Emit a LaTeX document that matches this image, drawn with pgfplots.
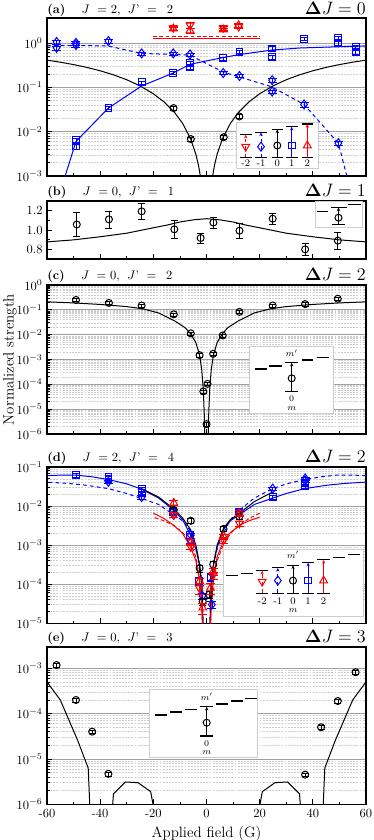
\documentclass[border=0pt]{standalone}
\usepackage{pgfplots}
\pgfplotsset{compat=1.18}
\usetikzlibrary{arrows.meta}
\definecolor{pblue}{RGB}{0,0,255}
\definecolor{pred}{RGB}{255,0,0}
\definecolor{gmaj}{RGB}{160,160,160}
\definecolor{gmin}{RGB}{205,205,205}
\definecolor{gbox}{RGB}{205,205,205}

\newcommand{\ttl}[3]{\textbf{(#1)}\hspace{13pt}$J$\hspace{6pt}$=$\hspace{3pt}$#2$,\hspace{6pt}$J$'\hspace{6pt}$=$\hspace{8pt}$#3$}

\pgfplotsset{
  panel/.style={
    scale only axis, width=255.2pt, anchor=north west,
    xmin=-60, xmax=60,
    xtick={-60,-40,-20,0,20,40,60}, minor x tick num=1,
    xticklabels={},
    tick align=inside, tick pos=left,
    axis line style={line width=1pt},
    major tick length=4pt, minor tick length=2.2pt,
    every tick/.append style={black, line width=0.6pt},
    clip mode=individual,
    every axis plot/.append style={line width=0.8pt},
  },
  loggrid/.style={
    ymajorgrids, yminorgrids,
    major grid style={draw=gmaj, line width=0.6pt},
    minor grid style={draw=gmin, dash pattern=on 1.5pt off 1pt, line width=0.4pt},
  },
  ebar/.style={error bars/y dir=both, error bars/y explicit relative, error bars/error bar style={line width=0.5pt}},
  m0/.style={black, only marks, mark=o, mark size=2.8pt},
  mp1/.style={pblue, only marks, mark=square, mark size=2.7pt},
  mm1/.style={pblue, only marks, mark=diamond, mark size=3.6pt},
  mp2/.style={pred, only marks, mark=triangle, mark size=3.6pt},
  mm2/.style={pred, only marks, mark=triangle, mark size=3.6pt, mark options={rotate=180}},
  inset/.style={scale only axis, anchor=north west, xmin=0, ymin=0, ticks=none,
    axis line style={draw=gbox, line width=0.8pt},
    axis background/.style={fill=white}, clip=false,
    every axis plot/.append style={line width=0.8pt}},
  lev/.style={black, line width=0.9pt},
  arr/.style={-{Stealth[length=3pt,width=2.6pt]}},
}

\begin{document}
\begin{tikzpicture}
\path[use as bounding box] (0,0) rectangle (299.2pt,-672pt);

% ---------------- (a) ----------------
\begin{axis}[panel, ymode=log, loggrid, name=pa, at={(37.6pt,-14.4pt)}, height=126.4pt,
  ymin=1e-3, ymax=3.65, ytick={1e-3,1e-2,1e-1,1}]
\addplot[black] coordinates {(-60,0.4095) (-55,0.368) (-50,0.325) (-45,0.281) (-40,0.2356) (-35,0.191) (-30,0.148) (-25,0.1075) (-20,0.0715) (-16,0.047) (-12,0.027) (-9,0.0154) (-6,0.0069) (-4,0.0031) (-3,0.00173) (-2,0.00077) (-1,0.00019) (1,0.00019) (2,0.00077) (3,0.00173) (4,0.0031) (6,0.0069) (9,0.0154) (12,0.027) (16,0.047) (20,0.0715) (25,0.1075) (30,0.148) (35,0.191) (40,0.2356) (45,0.281) (50,0.325) (55,0.368) (60,0.4095)};
\addplot[pblue] coordinates {(-56.4,0.00024) (-49.1,0.006) (-36.9,0.034) (-24.4,0.107) (-12.5,0.21) (-6.2,0.33) (6.3,0.47) (12.6,0.55) (24.5,0.69) (35.2,0.77) (49.6,0.82) (56.1,0.84) (60,0.85)};
\addplot[pblue, dash pattern=on 3pt off 2.5pt] coordinates {(-60,0.86) (-56.4,0.86) (-49.1,0.88) (-36.9,0.85) (-24.4,0.58) (-12.5,0.55) (-6.2,0.53) (6.3,0.22) (12.6,0.17) (24.5,0.103) (36.7,0.041) (49.6,0.0055) (56.1,0.00017)};
\addplot[pred] coordinates {(-20.1,1.25) (20.1,1.25)};
\addplot[pred, dash pattern=on 3pt off 2pt] coordinates {(-20.1,1.41) (20.1,1.41)};
\addplot[mm1, ebar] coordinates {(-56.4,1.05) +- (0,0.12) (-56.4,0.78) +- (0,0.1) (-49.1,1.0) +- (0,0.12) (-49.1,0.9) +- (0,0.1) (-36.9,1.1) +- (0,0.12) (-24.4,0.58) +- (0,0.08) (-12.5,0.58) +- (0,0.08) (-6.2,0.55) +- (0,0.08) (6.3,0.21) +- (0,0.08) (12.4,0.18) +- (0,0.08) (24.7,0.145) +- (0,0.1) (24.7,0.08) +- (0,0.1) (36.7,0.041) +- (0,0.12) (49.6,0.0055) +- (0,0.1)};
\addplot[mp1, ebar] coordinates {(-49.1,0.0065) +- (0,0.12) (-49.1,0.0046) +- (0,0.12) (-36.9,0.034) +- (0,0.08) (-24.4,0.13) +- (0,0.08) (-12.5,0.21) +- (0,0.08) (-6.2,0.35) +- (0,0.08) (-6.2,0.28) +- (0,0.08) (6.3,0.45) +- (0,0.08) (12.4,0.63) +- (0,0.08) (24.7,0.75) +- (0,0.1) (24.7,0.48) +- (0,0.1) (36.7,1.25) +- (0,0.08) (49.6,1.3) +- (0,0.1) (49.6,1.0) +- (0,0.1) (56.1,0.8) +- (0,0.1) (56.1,0.62) +- (0,0.1)};
\addplot[m0, ebar] coordinates {(-12.4,0.034) +- (0,0.1) (-5.9,0.0068) +- (0,0.1) (6.5,0.0075) +- (0,0.1) (12.35,0.022) +- (0,0.1)};
\addplot[mp2, ebar] coordinates {(-12.5,2.1) +- (0,0.1) (-6.2,1.9) +- (0,0.15) (6.3,2.0) +- (0,0.1) (12.1,2.5) +- (0,0.1)};
\addplot[mm2, ebar] coordinates {(-12.5,2.2) +- (0,0.1) (-6.2,2.5) +- (0,0.15) (6.3,2.2) +- (0,0.1) (12.1,2.35) +- (0,0.1)};
\end{axis}
\node[anchor=base west, inner sep=0pt, yshift=3.8pt] at (pa.north west) {\ttl{a}{2}{2}};
\node[anchor=base east, inner sep=0pt, yshift=2.6pt, font=\Large] at (pa.north east) {$\mathbf{\Delta}J = 0$};

% ---------------- (b) ----------------
\begin{axis}[panel, name=pb, at={(37.6pt,-160.8pt)}, height=46.4pt,
  ymin=0.7, ymax=1.3, ytick={0.8,1.0,1.2}, yticklabels={0.8,1.0,1.2}, minor y tick num=1]
\addplot[black] coordinates {(-60,0.877) (-50,0.898) (-40,0.93) (-30,0.967) (-20,1.023) (-15,1.05) (-10,1.083) (-5,1.105) (0,1.117) (5,1.105) (10,1.083) (15,1.05) (20,1.023) (30,0.967) (40,0.93) (50,0.898) (60,0.877)};
\addplot[m0, error bars/y dir=both, error bars/y explicit, error bars/error bar style={line width=0.6pt}] coordinates {(-48.8,1.057) +- (0,0.125) (-36.7,1.11) +- (0,0.088) (-24.4,1.193) +- (0,0.08) (-12.1,1.007) +- (0,0.09) (-2.2,0.917) +- (0,0.05) (2.6,1.077) +- (0,0.06) (12.4,0.993) +- (0,0.075) (24.9,1.117) +- (0,0.058) (37.1,0.80) +- (0,0.058) (49.4,0.89) +- (0,0.09)};
\end{axis}
\node[anchor=base west, inner sep=0pt, yshift=4.5pt] at (pb.north west) {\ttl{b}{0}{1}};
\node[anchor=base east, inner sep=0pt, yshift=4pt, font=\Large] at (pb.north east) {$\mathbf{\Delta}J = 1$};

% ---------------- (c) ----------------
\begin{axis}[panel, ymode=log, loggrid, name=pc, at={(37.6pt,-228pt)}, height=119.2pt,
  ymin=1e-6, ymax=1, ytick={1e-6,1e-5,1e-4,1e-3,1e-2,1e-1,1},
  ylabel={Normalized strength},
  ylabel style={font=\fontsize{12}{14}\selectfont, at={(axis description cs:-0.116,0.5)}, anchor=center, rotate=0}]
\addplot[black] coordinates {(-60,0.21) (-50,0.19) (-40,0.165) (-30,0.135) (-24,0.11) (-18,0.075) (-12,0.036) (-8,0.019) (-6,0.011) (-4,0.0048) (-2.6,0.0015) (-1.8,0.0004) (-1.2,0.00006) (-0.8,0.000005) (-0.5,1e-7) (0.5,1e-7) (0.8,0.000005) (1.2,0.00006) (1.8,0.0004) (2.6,0.0015) (4,0.0048) (6,0.011) (8,0.019) (12,0.036) (18,0.075) (24,0.11) (30,0.135) (40,0.165) (50,0.19) (60,0.21)};
\addplot[m0, ebar] coordinates {(-49.1,0.25) +- (0,0.15) (-36.7,0.19) +- (0,0.15) (-24.4,0.15) +- (0,0.15) (-12.3,0.066) +- (0,0.15) (-5.9,0.0113) +- (0,0.15) (-2.6,0.0015) +- (0,0.15) (-1.2,0.000052) +- (0,0.15) (0,0.0000025) +- (0,0.2) (0.4,0.000105) +- (0,0.15) (2.5,0.0017) +- (0,0.15) (6.1,0.0093) +- (0,0.15) (12.4,0.083) +- (0,0.15) (24.9,0.15) +- (0,0.15) (37.1,0.17) +- (0,0.15) (49.4,0.28) +- (0,0.15)};
\end{axis}
\node[anchor=base west, inner sep=0pt, yshift=4.5pt] at (pc.north west) {\ttl{c}{0}{2}};
\node[anchor=base east, inner sep=0pt, yshift=4pt, font=\Large] at (pc.north east) {$\mathbf{\Delta}J = 2$};

% ---------------- (d) ----------------
\begin{axis}[panel, ymode=log, loggrid, name=pd, at={(37.6pt,-373.6pt)}, height=125pt,
  ymin=1e-5, ymax=1e-1, ytick={1e-5,1e-4,1e-3,1e-2,1e-1}]
\addplot[pblue] coordinates {(-60,0.060) (-55,0.062) (-49,0.062) (-43,0.056) (-37,0.048) (-30,0.037) (-24.4,0.027) (-18,0.016) (-12.5,0.008) (-9,0.0045) (-6,0.0018) (-4,0.0008) (-2.6,0.00032) (-1.8,0.0001) (-1.2,0.000005) (1.2,0.000005) (1.8,0.0001) (2.6,0.00032) (4,0.0009) (6.4,0.0025) (9,0.0042) (12.35,0.006) (18,0.011) (24.9,0.016) (30,0.021) (37,0.028) (45,0.034) (52,0.038) (60,0.041)};
\addplot[pblue, dash pattern=on 3pt off 2.5pt] coordinates {(60,0.060) (55,0.062) (49,0.062) (43,0.056) (37,0.048) (30,0.037) (24.4,0.027) (18,0.016) (12.5,0.008) (9,0.0045) (6,0.0018) (4,0.0008) (2.6,0.00032) (1.8,0.0001) (1.2,0.000005) (-1.2,0.000005) (-1.8,0.0001) (-2.6,0.00032) (-4,0.0009) (-6.4,0.0025) (-9,0.0042) (-12.35,0.006) (-18,0.011) (-24.9,0.016) (-30,0.021) (-37,0.028) (-45,0.034) (-52,0.038) (-60,0.041)};
\addplot[black] coordinates {(-24.4,0.028) (-18,0.017) (-12.4,0.0085) (-9,0.005) (-6,0.0025) (-4,0.001) (-2.6,0.0003) (-1.8,0.0001) (-1.2,0.000005) (1.2,0.000005) (1.8,0.0001) (2.6,0.0003) (4,0.001) (6.4,0.0027) (9,0.0045) (12.35,0.0065) (18,0.013) (24.9,0.023)};
\addplot[pred] coordinates {(-20,0.0066) (-16,0.0048) (-12.3,0.0032) (-9,0.002) (-6,0.0009) (-4,0.0004) (-2.6,0.00012) (-1.8,0.00003) (-1.3,0.000003) (1.3,0.000003) (1.8,0.00003) (2.6,0.00015) (4,0.0005) (6.4,0.0013) (9,0.0021) (12.35,0.0032) (16,0.0042) (20,0.0052)};
\addplot[pred, dash pattern=on 3pt off 2pt] coordinates {(20,0.0066) (16,0.0048) (12.3,0.0032) (9,0.002) (6,0.0009) (4,0.0004) (2.6,0.00012) (1.8,0.00003) (1.3,0.000003) (-1.3,0.000003) (-1.8,0.00003) (-2.6,0.00015) (-4,0.0005) (-6.4,0.0013) (-9,0.0021) (-12.35,0.0032) (-16,0.0042) (-20,0.0052)};
\addplot[mp1, ebar] coordinates {(-49.1,0.062) +- (0,0.1) (-36.9,0.056) +- (0,0.1) (-36.9,0.048) +- (0,0.1) (-24.4,0.027) +- (0,0.1) (-24.4,0.022) +- (0,0.1) (-12.5,0.0072) +- (0,0.15) (-6.2,0.0018) +- (0,0.15) (-2.7,0.00012) +- (0,0.2) (1.5,0.00015) +- (0,0.2) (12.35,0.0072) +- (0,0.15) (24.9,0.017) +- (0,0.1) (37.1,0.038) +- (0,0.1) (37.1,0.032) +- (0,0.1)};
\addplot[mm1, ebar] coordinates {(-36.9,0.042) +- (0,0.1) (-24.4,0.017) +- (0,0.1) (-12.3,0.006) +- (0,0.15) (-5.9,0.0018) +- (0,0.15) (-5.9,0.0013) +- (0,0.15) (-1.5,0.00005) +- (0,0.2) (2.0,0.00003) +- (0,0.2) (12.35,0.0065) +- (0,0.15) (24.9,0.028) +- (0,0.1) (37.1,0.051) +- (0,0.1) (37.1,0.045) +- (0,0.1)};
\addplot[m0, ebar] coordinates {(-12.3,0.008) +- (0,0.15) (-5.9,0.0042) +- (0,0.15) (-2.6,0.00026) +- (0,0.2) (-1.4,0.000036) +- (0,0.2) (1,0.000054) +- (0,0.2) (2.5,0.00032) +- (0,0.2) (6.4,0.0026) +- (0,0.15) (12.35,0.0054) +- (0,0.15)};
\addplot[mp2, ebar] coordinates {(-12.3,0.012) +- (0,0.15) (-5.9,0.0012) +- (0,0.15) (-2.6,0.00012) +- (0,0.2) (-1.4,0.000025) +- (0,0.3) (1.5,0.00008) +- (0,0.3) (2.5,0.00021) +- (0,0.2) (6.4,0.0017) +- (0,0.15) (12.35,0.0066) +- (0,0.15)};
\addplot[mm2, ebar] coordinates {(-12.3,0.006) +- (0,0.15) (-5.9,0.0009) +- (0,0.15) (-2.7,0.00008) +- (0,0.3) (2.5,0.00017) +- (0,0.2) (6.4,0.00135) +- (0,0.15) (12.35,0.0036) +- (0,0.15)};
\end{axis}
\node[anchor=base west, inner sep=0pt, yshift=4.5pt] at (pd.north west) {\ttl{d}{2}{4}};
\node[anchor=base east, inner sep=0pt, yshift=4pt, font=\Large] at (pd.north east) {$\mathbf{\Delta}J = 2$};

% ---------------- (e) ----------------
\begin{axis}[panel, ymode=log, loggrid, name=pe, at={(37.6pt,-517.6pt)}, height=125.8pt,
  ymin=1e-6, ymax=2.95e-3, ytick={1e-6,1e-5,1e-4,1e-3},
  xticklabels={-60,-40,-20,0,20,40,60},
  xlabel={Applied field (G)}, xlabel style={font=\fontsize{12}{14}\selectfont}]
\addplot[black] coordinates {(-60,5e-4) (-55,2e-4) (-48.5,2.6e-5) (-44.5,6.3e-6) (-43.2,1e-7) (-36.5,1e-7) (-35,1.7e-6) (-30.5,3.1e-6) (-25.8,3.0e-6) (-21,1.9e-6) (-17,1e-7) (17,1e-7) (21,1.9e-6) (25.8,3.0e-6) (30.5,3.1e-6) (35,1.7e-6) (36.5,1e-7) (43.2,1e-7) (44.5,6.3e-6) (48.5,2.6e-5) (55,2e-4) (60,5e-4)};
\addplot[m0, ebar] coordinates {(-56.4,1.18e-3) +- (0,0.1) (-49.1,2.0e-4) +- (0,0.1) (-43,4.0e-5) +- (0,0.1) (-36.9,4.7e-6) +- (0,0.1) (37.1,4.5e-6) +- (0,0.1) (43.1,5.0e-5) +- (0,0.1) (49.4,1.9e-4) +- (0,0.1) (56.1,8.2e-4) +- (0,0.1)};
\end{axis}
\node[anchor=base west, inner sep=0pt, yshift=4.5pt] at (pe.north west) {\ttl{e}{0}{3}};
\node[anchor=base east, inner sep=0pt, yshift=4pt, font=\Large] at (pe.north east) {$\mathbf{\Delta}J = 3$};

% ---------------- inset (a) ----------------
\begin{axis}[inset, at={(189.2pt,-97.6pt)}, width=65.44pt, height=36.8pt, xmax=81.8, ymax=46]
\addplot[lev] coordinates {(3.4,33.3) (15,33.3)};
\addplot[lev] coordinates {(18.7,35.7) (30.3,35.7)};
\addplot[lev] coordinates {(35,38.7) (46.6,38.7)};
\addplot[lev] coordinates {(49.4,41.3) (61,41.3)};
\addplot[lev] coordinates {(65,44) (76.6,44)};
\addplot[lev] coordinates {(3.4,10.7) (15,10.7)};
\addplot[lev] coordinates {(18.7,10.7) (30.3,10.7)};
\addplot[lev] coordinates {(35,10.7) (46.6,10.7)};
\addplot[lev] coordinates {(49.4,10.7) (61,10.7)};
\addplot[lev] coordinates {(65,10.7) (76.6,10.7)};
\addplot[pred, dashed, arr] coordinates {(9.2,10.7) (9.2,33.3)};
\addplot[pblue, dashed, arr] coordinates {(24.5,10.7) (24.5,35.7)};
\addplot[black, arr] coordinates {(40.8,10.7) (40.8,38.7)};
\addplot[pblue, arr] coordinates {(55.2,10.7) (55.2,41.3)};
\addplot[pred, arr] coordinates {(70.8,10.7) (70.8,44)};
\addplot[mm2, mark options={rotate=180, fill=white}] coordinates {(9.2,21.3)};
\addplot[mm1, mark options={fill=white}] coordinates {(24.5,21.3)};
\addplot[m0, mark options={fill=white}] coordinates {(40.8,22.5)};
\addplot[mp1, mark options={fill=white}] coordinates {(55.2,22.5)};
\addplot[mp2, mark options={fill=white}] coordinates {(70.8,22.5)};
\node[font=\footnotesize] at (axis cs:9.2,4.4) {-2};
\node[font=\footnotesize] at (axis cs:24.5,4.4) {-1};
\node[font=\footnotesize] at (axis cs:40.8,4.4) {0};
\node[font=\footnotesize] at (axis cs:55.2,4.4) {1};
\node[font=\footnotesize] at (axis cs:70.8,4.4) {2};
\end{axis}

% ---------------- inset (b) ----------------
\begin{axis}[inset, at={(252pt,-161.36pt)}, width=38.16pt, height=20.8pt, xmax=47.7, ymax=26]
\addplot[lev] coordinates {(1.7,16) (13.3,16)};
\addplot[lev] coordinates {(15.7,20.4) (31.7,20.4)};
\addplot[lev] coordinates {(33.3,23.4) (45.7,23.4)};
\addplot[lev] coordinates {(16.7,3.4) (30,3.4)};
\addplot[black, arr] coordinates {(23.5,3.4) (23.5,20.4)};
\addplot[m0, mark options={fill=white}] coordinates {(23.5,10)};
\end{axis}

% ---------------- inset (c) ----------------
\begin{axis}[inset, at={(199.44pt,-276.8pt)}, width=67.2pt, height=53.84pt, xmax=84, ymax=67.3]
\addplot[lev] coordinates {(5.7,44.3) (17.4,44.3)};
\addplot[lev] coordinates {(20,47.3) (32.4,47.3)};
\addplot[lev] coordinates {(35.7,50.6) (49,50.6)};
\addplot[lev] coordinates {(52.4,53.3) (64,53.3)};
\addplot[lev] coordinates {(67.4,56) (80,56)};
\addplot[lev] coordinates {(35.7,21.6) (49,21.6)};
\addplot[black, arr] coordinates {(42.4,21.6) (42.4,50.6)};
\addplot[m0, mark options={fill=white}] coordinates {(42.4,35)};
\node[font=\scriptsize, inner sep=0pt] at (axis cs:42.4,14.5) {0};
\node[font=\scriptsize, inner sep=0pt] at (axis cs:42.4,5) {$m$};
\node[font=\scriptsize, inner sep=0pt] at (axis cs:42.4,60) {$m'$};
\end{axis}

% ---------------- inset (d) ----------------
\begin{axis}[inset, at={(178.64pt,-439.44pt)}, width=112.4pt, height=53.84pt, xmax=140.5, ymax=67.3]
\addplot[lev] coordinates {(2.7,40.7) (15,40.7)};
\addplot[lev] coordinates {(17.7,43.4) (30,43.4)};
\addplot[lev] coordinates {(32.7,46) (45,46)};
\addplot[lev] coordinates {(48.4,48.7) (60.7,48.7)};
\addplot[lev] coordinates {(63.4,51.4) (76,51.4)};
\addplot[lev] coordinates {(78.7,54) (91,54)};
\addplot[lev] coordinates {(94,56.7) (106.7,56.7)};
\addplot[lev] coordinates {(109.4,59.4) (121.7,59.4)};
\addplot[lev] coordinates {(124.4,62) (136.7,62)};
\addplot[lev] coordinates {(32.7,23.4) (45,23.4)};
\addplot[lev] coordinates {(48.4,23.4) (60.7,23.4)};
\addplot[lev] coordinates {(63.4,23.4) (76,23.4)};
\addplot[lev] coordinates {(78.7,23.4) (91,23.4)};
\addplot[lev] coordinates {(94,23.4) (106.7,23.4)};
\addplot[pred, dashed, arr] coordinates {(38.85,23.4) (38.85,46)};
\addplot[pblue, dashed, arr] coordinates {(54.55,23.4) (54.55,48.7)};
\addplot[black, arr] coordinates {(69.7,23.4) (69.7,51.4)};
\addplot[pblue, arr] coordinates {(84.85,23.4) (84.85,54)};
\addplot[pred, arr] coordinates {(100.35,23.4) (100.35,56.7)};
\addplot[mm2, mark options={rotate=180, fill=white}] coordinates {(38.85,35)};
\addplot[mm1, mark options={fill=white}] coordinates {(54.55,36)};
\addplot[m0, mark options={fill=white}] coordinates {(69.7,36)};
\addplot[mp1, mark options={fill=white}] coordinates {(84.85,36)};
\addplot[mp2, mark options={fill=white}] coordinates {(100.35,36)};
\node[font=\footnotesize, inner sep=0pt] at (axis cs:38.85,15.5) {-2};
\node[font=\footnotesize, inner sep=0pt] at (axis cs:54.55,15.5) {-1};
\node[font=\footnotesize, inner sep=0pt] at (axis cs:69.7,15.5) {0};
\node[font=\footnotesize, inner sep=0pt] at (axis cs:84.85,15.5) {1};
\node[font=\footnotesize, inner sep=0pt] at (axis cs:100.35,15.5) {2};
\node[font=\scriptsize, inner sep=0pt] at (axis cs:69.7,5.5) {$m$};
\node[font=\scriptsize, inner sep=0pt] at (axis cs:69.7,61.5) {$m'$};
\end{axis}

% ---------------- inset (e) ----------------
\begin{axis}[inset, at={(119.44pt,-551.44pt)}, width=86.4pt, height=54.4pt, xmax=108, ymax=68]
\addplot[lev] coordinates {(5.7,42.3) (17.4,42.3)};
\addplot[lev] coordinates {(20.7,45.3) (32.4,45.3)};
\addplot[lev] coordinates {(35.7,48) (47.4,48)};
\addplot[lev] coordinates {(50.7,50.6) (64,50.6)};
\addplot[lev] coordinates {(66.7,53.3) (79,53.3)};
\addplot[lev] coordinates {(81.4,56.3) (94,56.3)};
\addplot[lev] coordinates {(96,58.6) (107.5,58.6)};
\addplot[lev] coordinates {(50.7,21.3) (64,21.3)};
\addplot[black, arr] coordinates {(57.4,21.3) (57.4,50.6)};
\addplot[m0, mark options={fill=white}] coordinates {(57.4,34.6)};
\node[font=\scriptsize, inner sep=0pt] at (axis cs:57.4,13.8) {0};
\node[font=\scriptsize, inner sep=0pt] at (axis cs:57.4,4.6) {$m$};
\node[font=\scriptsize, inner sep=0pt] at (axis cs:57.4,60.5) {$m'$};
\end{axis}
\end{tikzpicture}
\end{document}
